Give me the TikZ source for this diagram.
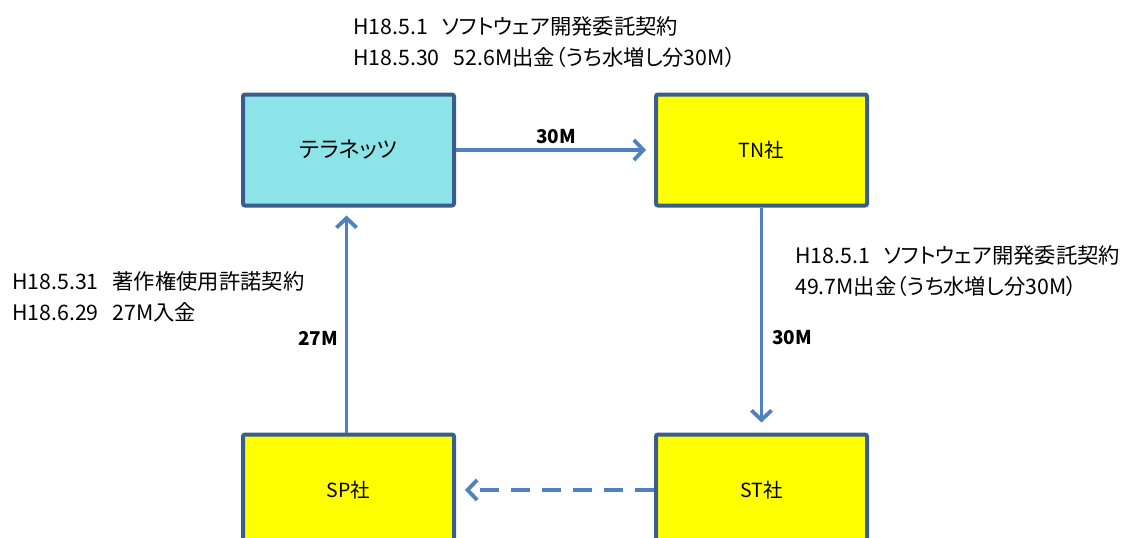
\documentclass[tikz,border=0pt]{standalone}
\usepackage{fontspec}
\setmainfont{Noto Sans CJK JP}[RawFeature={+palt}]
\usetikzlibrary{arrows.meta}
\definecolor{lineblue}{HTML}{4F81BD}
\definecolor{boxedge}{HTML}{3A5E8C}
\definecolor{terrafill}{HTML}{8CE4E9}
\definecolor{yel}{HTML}{FFFF00}
\begin{document}
\begin{tikzpicture}[x=1pt,y=-1pt,
  company/.style={draw=boxedge, line width=4pt, rounded corners=2pt,
    minimum width=211pt, minimum height=111pt, inner sep=0pt,
    font=\fontsize{19.5}{21}\selectfont},
  flow/.style={draw=lineblue, line width=3.8pt,
    -{Straight Barb[length=9.5pt,width=20pt]}},
  amount/.style={font=\bfseries\fontsize{19}{21}\selectfont, inner sep=0pt},
  note/.style={font=\fontsize{21.3}{31}\selectfont, align=left, anchor=west, inner sep=0pt}]
\useasboundingbox (0,0) rectangle (1135,538);
\clip (0,0) rectangle (1135,538);
\fill[white] (0,0) rectangle (1135,538);

\node[company, fill=terrafill, font=\fontsize{22}{24}\selectfont] (terra) at (348.5,150) {テラネッツ};
\node[company, fill=yel] (tn) at (761.5,150) {TN社};
\node[company, fill=yel] (sp) at (348.5,490) {SP社};
\node[company, fill=yel] (st) at (761.5,490) {ST社};

\draw[flow, shorten >=8pt] (terra.east) -- (tn.west);
\draw[flow, shorten >=10pt] (tn.south) -- (st.north);
\draw[flow, shorten >=8pt] ([xshift=-2pt]sp.north) -- ([xshift=-2pt]terra.south);
\draw[flow, dash pattern=on 19pt off 12pt, shorten >=9pt] (st.west) -- (sp.east);

\node[amount] (l1) at (556,137) {30M};
\node[amount] (l2) at (792,338) {30M};
\node[amount] (l3) at (318,338) {27M};

\node[note] (n1) at (353,42) {H18.5.1\hspace{14pt}ソフトウェア開発委託契約\\H18.5.30\hspace{14pt}52.6M出金（うち水増し分30M）};
\node[note] (n2) at (795,271) {H18.5.1\hspace{14pt}ソフトウェア開発委託契約\\49.7M出金（うち水増し分30M）};
\node[note] (n3) at (12,297) {H18.5.31\hspace{14pt}著作権使用許諾契約\\H18.6.29\hspace{14pt}27M入金};
\end{tikzpicture}
\end{document}
